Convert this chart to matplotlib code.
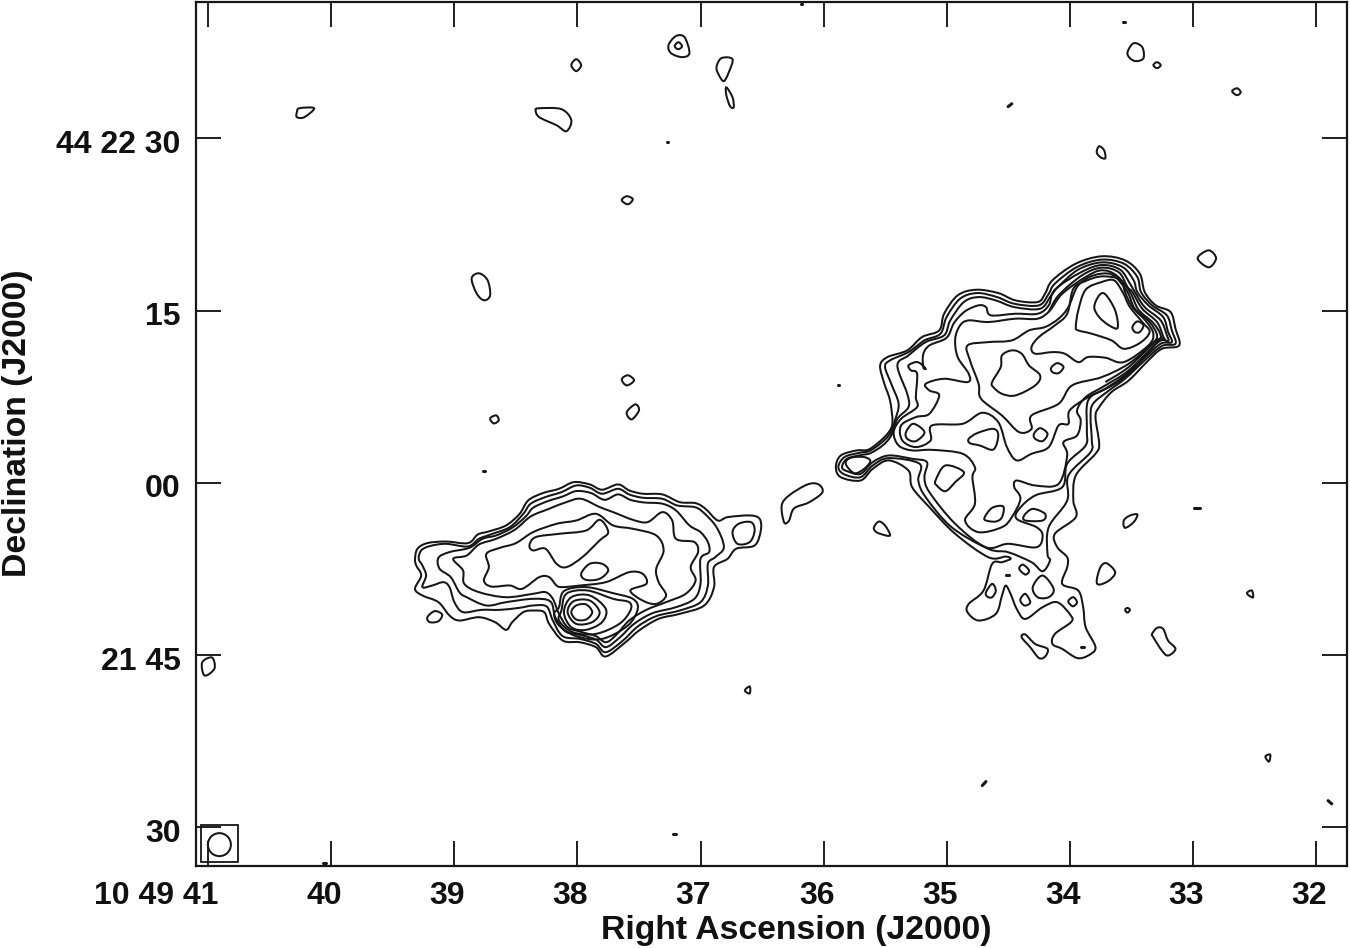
import matplotlib
matplotlib.use("Agg")
import matplotlib.pyplot as plt
from matplotlib.path import Path
from matplotlib.patches import PathPatch, Rectangle, Ellipse
from matplotlib.transforms import ScaledTranslation

plt.rcParams["font.family"] = ["Liberation Sans", "DejaVu Sans"]

# all positions: (RA seconds past 10 49, Dec arcsec past 44 22)
ra_ticks = [41, 40, 39, 38, 37, 36, 35, 34, 33, 32]
ra_labels = ["10 49 41", "40", "39", "38", "37", "36", "35", "34", "33", "32"]
dec_ticks = [30, 15, 0, -15, -30]
dec_labels = ["44 22 30", "15", "00", "21 45", "30"]

#%% eastern lobe
east_a = [(39.32,-6.62),(39.30,-5.74),(39.22,-5.25),(39.07,-5.11),(38.89,-5.25),(38.81,-4.50),(38.72,-4.23),(38.58,-3.71),(38.47,-2.70),(38.40,-1.53),(38.28,-0.89),(38.15,-0.52),(38.03,0.06),(37.90,-0.14),(37.80,-0.60),(37.67,-0.14),(37.58,-0.66),(37.47,-0.95),(37.31,-1.01),(37.17,-1.68),(37.04,-1.77),(36.96,-2.26),(36.86,-3.28),(36.78,-2.99),(36.60,-2.84),(36.52,-3.13),(36.51,-4.15),(36.56,-5.45),(36.71,-5.74),(36.78,-6.62),(36.89,-7.34),(36.89,-9.08),(36.97,-10.68),(37.17,-11.41),(37.34,-11.84),(37.50,-12.86),(37.61,-13.88),(37.77,-15.12),(37.85,-14.31),(37.98,-13.88),(38.12,-13.73),(38.23,-12.28),(38.27,-11.26),(38.36,-11.12),(38.44,-11.26),(38.53,-12.13),(38.58,-12.80),(38.67,-12.13),(38.80,-11.70),(38.96,-11.99),(39.04,-11.55),(39.13,-10.39),(39.26,-9.81),(39.32,-9.23),(39.27,-8.07),(39.31,-7.20)]
east_b = [(39.29,-6.62),(39.27,-5.89),(39.20,-5.51),(39.07,-5.31),(38.89,-5.54),(38.80,-4.87),(38.69,-4.44),(38.55,-3.86),(38.44,-2.70),(38.38,-1.82),(38.26,-1.24),(38.13,-0.81),(38.01,-0.23),(37.90,-0.43),(37.80,-0.95),(37.67,-0.52),(37.58,-1.01),(37.47,-1.30),(37.31,-1.39),(37.19,-1.97),(37.05,-2.11),(36.98,-2.55),(36.87,-3.86),(36.81,-5.60),(36.88,-6.47),(36.94,-7.05),(36.94,-8.94),(37.00,-10.39),(37.17,-11.12),(37.36,-11.61),(37.51,-12.51),(37.63,-13.73),(37.77,-14.75),(37.85,-14.02),(37.98,-13.59),(38.12,-13.35),(38.20,-11.99),(38.25,-10.77),(38.36,-10.68),(38.47,-10.88),(38.63,-11.06),(38.78,-11.06),(38.93,-11.26),(39.00,-10.39),(39.04,-9.08),(39.09,-8.65),(39.18,-8.94),(39.26,-9.08),(39.23,-8.07),(39.26,-7.20)]
east_c = [(39.13,-6.53),(39.04,-6.03),(38.88,-5.66),(38.77,-4.87),(38.66,-4.58),(38.53,-3.91),(38.42,-2.93),(38.36,-2.17),(38.24,-1.59),(38.12,-1.19),(38.01,-0.72),(37.89,-0.89),(37.78,-1.48),(37.67,-1.01),(37.57,-1.48),(37.46,-1.71),(37.31,-1.82),(37.20,-2.40),(37.09,-3.71),(37.00,-4.29),(36.94,-5.16),(36.93,-6.03),(37.00,-6.62),(37.00,-8.79),(37.05,-10.10),(37.20,-10.83),(37.39,-11.35),(37.54,-12.28),(37.66,-13.50),(37.77,-14.31),(37.85,-13.64),(37.98,-13.24),(38.10,-12.92),(38.18,-11.70),(38.22,-10.33),(38.36,-10.10),(38.58,-10.39),(38.74,-10.68),(38.90,-9.96),(38.96,-9.52),(39.03,-8.21),(39.12,-7.49)]
east_d = [(39.01,-6.62),(38.90,-6.33),(38.80,-5.37),(38.66,-4.87),(38.51,-4.09),(38.38,-2.93),(38.23,-2.26),(38.09,-1.68),(37.97,-1.39),(37.82,-2.11),(37.71,-2.55),(37.55,-3.22),(37.43,-3.42),(37.31,-2.55),(37.23,-3.28),(37.20,-4.87),(37.05,-5.16),(37.02,-6.03),(37.08,-7.34),(37.04,-8.50),(37.12,-9.66),(37.28,-10.39),(37.44,-11.06),(37.58,-11.99),(37.69,-13.30),(37.77,-13.88),(37.85,-13.35),(37.98,-12.95),(38.08,-12.57),(38.15,-11.41),(38.20,-10.10),(38.26,-9.52),(38.36,-9.66),(38.58,-9.96),(38.80,-9.52),(38.92,-8.79),(38.93,-7.63)]
east_e = [(38.74,-6.18),(38.63,-5.66),(38.50,-5.25),(38.36,-4.29),(38.17,-3.57),(38.01,-3.28),(37.85,-2.70),(37.71,-3.71),(37.55,-4.00),(37.36,-4.58),(37.30,-5.89),(37.36,-7.49),(37.34,-8.65),(37.28,-9.81),(37.36,-10.54),(37.47,-10.25),(37.57,-9.37),(37.44,-8.79),(37.47,-7.92),(37.58,-7.78),(37.77,-8.65),(37.98,-8.94),(38.12,-9.08),(38.17,-8.94),(38.23,-8.21),(38.31,-8.21),(38.45,-9.23),(38.55,-8.94),(38.70,-9.03),(38.76,-8.50),(38.72,-7.34)]
east_plateau = [(38.39,-5.45),(38.34,-4.73),(38.15,-4.44),(37.93,-4.15),(37.82,-3.22),(37.75,-4.29),(37.82,-5.02),(37.96,-6.47),(38.09,-7.34),(38.17,-7.05),(38.26,-5.74),(38.36,-5.89)]
east_spot = [(37.97,-7.92),(37.90,-7.05),(37.80,-7.05),(37.75,-7.63),(37.82,-8.36),(37.93,-8.45)]
core_1 = [(38.05,-11.26),(38.01,-10.68),(37.93,-10.59),(37.88,-11.26),(37.93,-11.90),(38.01,-11.90)]
core_2 = [(38.08,-11.26),(38.03,-10.30),(37.90,-10.25),(37.82,-11.26),(37.88,-12.13),(38.01,-12.28)]
core_3 = [(38.11,-11.26),(38.05,-9.96),(37.90,-9.81),(37.77,-10.97),(37.80,-12.13),(37.93,-12.80),(38.05,-12.57)]
core_4 = [(38.13,-11.12),(38.09,-9.66),(37.92,-9.37),(37.71,-10.10),(37.58,-10.39),(37.57,-11.12),(37.66,-12.28),(37.85,-13.15),(38.04,-13.00),(38.15,-11.99)]
core_5 = [(38.15,-10.83),(38.11,-9.43),(37.93,-9.08),(37.71,-9.61),(37.55,-10.10),(37.51,-10.97),(37.59,-12.42),(37.80,-13.59),(38.01,-13.35),(38.15,-12.42),(38.19,-11.41)]
east_knot = [(36.74,-4.29),(36.69,-3.57),(36.59,-3.42),(36.56,-4.15),(36.60,-5.16),(36.70,-5.31)]
east_islet = [(39.22,-11.70),(39.16,-11.17),(39.10,-11.47),(39.13,-12.05),(39.20,-12.13)]

#%% bridge between the lobes
bridge = [(36.34,-1.97),(36.28,-1.10),(36.13,-0.14),(36.04,-0.14),(36.01,-0.84),(36.12,-1.71),(36.24,-2.23),(36.28,-3.28),(36.32,-3.45)]

#%% western lobe
west_a = [(35.90,1.36),(35.86,2.38),(35.73,2.82),(35.64,2.87),(35.55,3.54),(35.47,4.41),(35.44,5.28),(35.46,7.17),(35.51,8.77),(35.54,10.22),(35.48,10.95),(35.32,11.53),(35.20,12.69),(35.06,13.27),(35.02,14.72),(34.91,16.32),(34.76,16.81),(34.58,16.52),(34.44,15.88),(34.26,15.74),(34.20,16.46),(34.14,17.63),(33.95,19.08),(33.74,19.72),(33.55,19.37),(33.43,18.21),(33.39,16.61),(33.30,15.45),(33.18,14.87),(33.14,13.42),(33.11,11.96),(33.25,11.67),(33.36,10.66),(33.52,8.91),(33.66,7.90),(33.76,6.59),(33.79,5.72),(33.76,3.40),(33.79,2.53),(33.95,0.64),(33.97,-1.54),(33.95,-2.99),(34.12,-4.44),(34.10,-5.61),(34.02,-6.48),(34.02,-7.35),(34.06,-8.80),(33.93,-9.38),(33.89,-10.83),(33.87,-12.57),(33.79,-14.32),(33.85,-15.04),(33.94,-15.25),(34.06,-14.46),(34.14,-14.03),(34.12,-13.16),(33.99,-12.14),(33.99,-11.56),(34.10,-10.40),(34.22,-10.83),(34.36,-11.85),(34.43,-10.98),(34.48,-9.67),(34.52,-8.95),(34.55,-9.82),(34.60,-11.41),(34.74,-11.99),(34.83,-11.27),(34.82,-10.54),(34.70,-9.38),(34.63,-7.06),(34.55,-6.91),(34.48,-6.62),(34.52,-6.42),(34.66,-6.48),(34.93,-4.44),(35.14,-2.12),(35.28,-0.38),(35.31,1.07),(35.47,1.95),(35.60,1.22),(35.70,0.20),(35.86,0.49)]
west_b = [(35.88,1.36),(35.83,2.24),(35.71,2.61),(35.63,2.76),(35.54,3.40),(35.46,4.27),(35.42,5.43),(35.39,6.88),(35.45,8.62),(35.50,10.08),(35.46,10.66),(35.31,11.38),(35.18,12.40),(35.05,12.98),(35.00,14.43),(34.89,16.03),(34.75,16.52),(34.59,16.17),(34.45,15.59),(34.25,15.45),(34.17,16.46),(34.12,17.34),(33.94,18.79),(33.74,19.43),(33.56,19.08),(33.45,17.92),(33.42,16.61),(33.33,15.45),(33.21,14.58),(33.17,13.27),(33.14,12.11),(33.25,11.91),(33.39,10.66),(33.55,9.06),(33.68,8.04),(33.81,6.88),(33.83,5.72),(33.82,3.69),(33.83,2.67),(34.01,0.64),(34.02,-1.54),(34.17,-3.86),(34.18,-6.19),(34.16,-6.77),(34.22,-7.70),(34.31,-6.91),(34.50,-6.04),(34.66,-5.75),(34.96,-3.86),(35.17,-1.25),(35.23,0.20),(35.22,1.66),(35.47,2.15),(35.60,1.51),(35.70,0.49),(35.83,0.73)]
west_c = [(35.85,1.36),(35.81,2.09),(35.70,2.41),(35.62,2.58),(35.52,3.25),(35.45,4.12),(35.40,5.57),(35.31,6.59),(35.32,7.75),(35.40,10.22),(35.31,11.09),(35.17,12.25),(35.02,12.84),(34.97,14.14),(34.86,15.74),(34.74,16.17),(34.60,15.88),(34.45,15.30),(34.24,15.16),(34.15,16.32),(34.09,17.10),(33.93,18.56),(33.74,19.19),(33.57,18.79),(33.48,17.63),(33.45,16.61),(33.36,15.45),(33.24,14.43),(33.20,13.13),(33.17,12.25),(33.26,12.11),(33.40,10.80),(33.57,9.20),(33.71,8.19),(33.85,7.17),(33.86,4.56),(33.87,3.25),(34.02,1.66),(34.06,-0.38),(34.28,-1.10),(34.41,-2.27),(34.43,-3.14),(34.27,-3.86),(34.22,-4.59),(34.27,-5.61),(34.50,-5.31),(34.68,-5.61),(34.93,-3.57),(35.14,-0.81),(35.18,0.49),(35.16,1.80),(35.28,2.09),(35.47,2.38),(35.60,1.80),(35.70,0.78),(35.81,1.02)]
west_d = [(35.19,10.08),(35.19,11.18),(35.14,11.96),(35.00,12.63),(34.94,13.91),(34.85,14.93),(34.74,15.45),(34.68,15.30),(34.64,14.58),(34.44,14.72),(34.26,14.72),(34.17,15.45),(34.12,16.81),(33.91,18.32),(33.74,18.96),(33.59,18.56),(33.51,17.34),(33.47,16.61),(33.39,15.30),(33.26,14.14),(33.21,12.84),(33.20,12.34),(33.28,12.25),(33.52,9.79),(33.71,8.48),(33.87,7.46),(33.94,6.30),(33.91,5.43),(33.94,4.12),(34.05,3.54),(34.02,2.38),(34.09,-0.09),(34.28,-0.23),(34.43,0.20),(34.45,-0.38),(34.40,-1.39),(34.47,-2.99),(34.55,-3.86),(34.74,-4.30),(34.85,-3.28),(34.77,-1.83),(34.79,0.49),(34.77,1.36),(34.87,2.53),(35.12,2.87),(35.28,2.82),(35.39,3.25),(35.43,4.41),(35.37,5.57),(35.24,6.59),(35.25,7.46),(35.24,9.49),(35.29,9.79),(35.31,10.22),(35.25,10.51),(35.21,10.37),(35.17,9.93)]
west_arc = [(34.17,14.87),(34.09,16.32),(33.90,18.06),(33.74,18.73),(33.60,18.32),(33.53,17.05),(33.49,16.61),(33.41,15.16),(33.29,14.00),(33.24,12.75),(33.23,12.46),(33.29,12.40),(33.52,10.08),(33.71,8.77)]
west_e = [(35.17,8.62),(35.02,9.06),(34.83,8.77),(34.82,9.49),(34.91,10.95),(34.93,12.54),(34.89,13.71),(34.82,14.14),(34.66,14.00),(34.44,14.29),(34.26,14.29),(34.16,15.01),(34.06,16.46),(33.87,17.92),(33.74,18.50),(33.62,18.06),(33.51,16.61),(33.44,15.07),(33.32,13.91),(33.26,12.84),(33.29,12.25),(33.52,9.50),(33.68,8.33),(33.85,7.46),(34.00,6.30),(34.01,5.14),(34.09,4.99),(34.17,3.11),(34.31,2.53),(34.43,1.95),(34.51,3.11),(34.58,5.28),(34.71,6.10),(34.87,5.14),(35.12,4.99),(35.13,3.69),(35.25,3.11),(35.36,3.69),(35.37,4.99),(35.25,5.72),(35.14,6.01),(35.06,7.61),(35.14,8.04)]
west_f = [(34.83,11.96),(34.66,12.25),(34.47,12.40),(34.33,13.27),(34.20,13.56),(34.09,14.29),(34.01,15.30),(33.94,17.05),(33.85,17.86),(33.74,18.21),(33.64,18.03),(33.53,16.61),(33.47,15.16),(33.35,14.00),(33.29,12.84),(33.33,12.11),(33.52,10.37),(33.74,9.20),(33.98,8.48),(34.09,6.88),(34.31,5.86),(34.31,4.70),(34.41,4.41),(34.55,5.86),(34.72,7.32),(34.74,8.62),(34.81,10.66)]
west_g = [(34.31,11.82),(34.25,12.69),(34.12,13.71),(34.02,14.72),(33.97,16.90),(33.87,17.57),(33.74,17.97),(33.59,17.70),(33.55,16.61),(33.49,15.30),(33.38,14.08),(33.32,12.98),(33.36,11.96),(33.56,10.51),(33.71,10.89),(33.85,10.95),(33.93,10.51),(34.04,11.24),(34.14,11.38),(34.28,11.24)]
west_h = [(33.95,13.56),(33.93,15.01),(33.87,16.81),(33.74,17.48),(33.64,17.63),(33.57,16.61),(33.51,15.30),(33.41,14.00),(33.35,13.13),(33.43,12.17),(33.56,11.67),(33.66,12.40),(33.82,12.98),(33.93,13.27)]
west_blobs = [
    [(34.63,8.77),(34.56,10.08),(34.55,11.09),(34.47,11.53),(34.39,11.24),(34.33,10.22),(34.24,9.35),(34.28,8.48),(34.44,7.61),(34.55,7.75),(34.62,8.33)],
    [(34.15,10.02),(34.10,10.42),(34.05,10.08),(34.09,9.55),(34.14,9.64)],
    [(33.80,15.30),(33.76,16.32),(33.71,16.41),(33.63,15.01),(33.61,13.50),(33.68,13.71),(33.76,14.43)],
    [(33.49,13.56),(33.45,14.05),(33.40,13.71),(33.43,13.13),(33.47,13.13)],
    [(35.33,4.41),(35.27,5.14),(35.18,4.41),(35.25,3.63),(35.32,3.83)],
    [(34.82,3.83),(34.75,4.33),(34.62,4.70),(34.58,4.12),(34.62,2.90),(34.73,3.25),(34.81,3.45)],
    [(34.29,4.27),(34.24,4.76),(34.18,4.27),(34.22,3.63),(34.28,3.83)],
    [(35.82,1.66),(35.78,2.18),(35.67,2.24),(35.62,1.89),(35.67,1.22),(35.75,0.84)],
    [(35.09,0.20),(35.01,1.51),(34.86,0.93),(34.93,0.06),(35.01,-0.73),(35.08,-0.23)],
    [(34.69,-2.99),(34.63,-2.18),(34.54,-2.06),(34.55,-2.99),(34.60,-3.37),(34.68,-3.28)],
    [(34.37,-2.85),(34.30,-2.27),(34.20,-2.70),(34.22,-3.28),(34.36,-3.28)],
    [(34.68,-9.53),(34.63,-8.80),(34.60,-9.38),(34.63,-9.96),(34.67,-9.90)],
    [(34.40,-10.11),(34.36,-9.67),(34.32,-10.40),(34.36,-10.69),(34.39,-10.48)],
    [(34.30,-9.09),(34.22,-8.07),(34.13,-9.24),(34.17,-9.96),(34.26,-9.96)],
    [(34.01,-10.25),(33.97,-9.96),(33.94,-10.40),(33.97,-10.75),(34.00,-10.54)],
    [(34.41,-7.49),(34.38,-7.12),(34.33,-7.64),(34.36,-7.99)],
]

#%% isolated noise peaks
islands = [
    [(35.59,-3.86),(35.55,-3.37),(35.50,-3.72),(35.46,-4.59),(35.54,-4.44),(35.58,-4.21)],
    [(33.56,-3.28),(33.51,-2.85),(33.45,-2.76),(33.48,-3.43),(33.55,-3.92)],
    [(33.78,-8.51),(33.75,-7.35),(33.70,-7.00),(33.63,-7.78),(33.68,-8.51),(33.76,-8.86)],
    [(33.55,-11.06),(33.53,-10.89),(33.51,-11.06),(33.53,-11.30)],
    [(33.33,-13.16),(33.29,-12.63),(33.24,-12.72),(33.20,-13.74),(33.14,-14.46),(33.20,-15.04),(33.25,-14.61),(33.32,-13.45)],
    [(34.39,-13.45),(34.36,-13.21),(34.28,-14.03),(34.18,-14.46),(34.20,-15.13),(34.25,-15.25),(34.32,-14.32)],
    [(40.28,32.26),(40.26,32.61),(40.14,32.61),(40.22,31.83),(40.28,31.83)],
    [(38.05,36.36),(38.01,36.88),(37.97,36.36),(38.01,35.84)],
    [(38.34,32.44),(38.31,32.61),(38.13,32.53),(38.05,31.57),(38.09,30.61),(38.17,31.13),(38.31,31.83)],
    [(37.26,38.10),(37.20,38.89),(37.13,38.80),(37.09,37.41),(37.15,37.06),(37.24,37.41)],
    [(37.21,38.01),(37.18,38.36),(37.15,38.01),(37.18,37.75)],
    [(36.87,36.18),(36.83,36.97),(36.74,36.88),(36.77,35.75),(36.81,34.97),(36.85,35.49)],
    [(36.79,34.44),(36.74,33.57),(36.73,32.70),(36.76,32.79),(36.79,33.75)],
    [(37.64,24.60),(37.60,24.95),(37.55,24.69),(37.59,24.25)],
    [(33.53,37.49),(33.48,38.27),(33.41,37.93),(33.40,36.97),(33.46,36.71),(33.51,36.97)],
    [(33.32,36.36),(33.29,36.62),(33.26,36.36),(33.29,36.10)],
    [(32.68,34.09),(32.64,34.35),(32.61,34.01),(32.64,33.75)],
    [(33.78,28.78),(33.76,29.30),(33.72,28.95),(33.71,28.26),(33.75,28.35)],
    [(38.86,17.80),(38.80,18.24),(38.73,17.63),(38.71,16.32),(38.76,15.89),(38.82,16.50)],
    [(37.64,9.01),(37.59,9.36),(37.54,8.92),(37.60,8.48)],
    [(37.60,6.13),(37.53,6.83),(37.50,6.31),(37.56,5.52)],
    [(38.71,5.61),(38.66,5.87),(38.64,5.44),(38.68,5.17)],
    [(41.05,-15.64),(40.97,-15.21),(40.95,-16.17),(41.03,-16.78)],
    [(36.64,-18.08),(36.60,-17.73),(36.60,-18.34)],
    [(32.96,19.55),(32.87,20.24),(32.81,19.55),(32.87,18.76)],
    [(32.56,-9.63),(32.52,-9.37),(32.51,-9.98)],
    [(32.41,-23.83),(32.37,-23.66),(32.38,-24.27)],
]
specks = [
    [(34.52,-8.01),(34.49,-8.01)],
    [(33.91,-14.26),(33.88,-14.26)],
    [(37.272,29.65),(37.268,29.65)],
    [(36.182,41.67),(36.178,41.67)],
    [(33.57,40.10),(33.55,40.10)],
    [(34.50,32.75),(34.47,33.00)],
    [(38.765,0.99),(38.755,0.99)],
    [(32.99,-2.23),(32.94,-2.23)],
    [(34.71,-26.36),(34.68,-26.01)],
    [(31.90,-27.67),(31.87,-27.95)],
    [(37.22,-30.54),(37.20,-30.54)],
    [(35.885,8.48),(35.875,8.48)],
    [(40.07,-33.14),(40.04,-33.14)],
]

#%% beam
beam_ra, beam_dec = 40.91, -31.50
beam_width_ra, beam_height_dec = 0.187, 2.0
box_ra = (41.06, 40.76)
box_dec = (-32.98, -29.76)

contours = [east_a, east_b, east_c, east_d, east_e, east_plateau, east_spot,
            core_1, core_2, core_3, core_4, core_5, east_knot, east_islet, bridge,
            west_a, west_b, west_c, west_d, west_e, west_f, west_g, west_h]
contours += west_blobs + islands


def contour_path(pts, closed=True):
    # cubic segments through the read points (Catmull-Rom handles)
    n = len(pts)
    if closed:
        at = lambda i: pts[i % n]
        spans = range(n)
    else:
        at = lambda i: pts[min(max(i, 0), n - 1)]
        spans = range(n - 1)
    verts = [at(0)]
    codes = [Path.MOVETO]
    for i in spans:
        p0, p1, p2, p3 = at(i - 1), at(i), at(i + 1), at(i + 2)
        c1 = (p1[0] + (p2[0] - p0[0]) / 6, p1[1] + (p2[1] - p0[1]) / 6)
        c2 = (p2[0] - (p3[0] - p1[0]) / 6, p2[1] - (p3[1] - p1[1]) / 6)
        verts += [c1, c2, p2]
        codes += [Path.CURVE4] * 3
    return Path(verts, codes)


fig = plt.figure(figsize=(13.5, 9.48), dpi=100)
ax = fig.add_axes([196 / 1350, 1 - 866 / 948, 1151 / 1350, 864 / 948])
ink = "#161616"
lw = 1.45

for pts in contours:
    ax.add_patch(PathPatch(contour_path(pts), fill=False, ec=ink, lw=lw))
ax.add_patch(PathPatch(contour_path(west_arc, closed=False), fill=False, ec=ink, lw=lw))
for pts in specks:
    ax.plot(*zip(*pts), color=ink, lw=2.2, solid_capstyle="round")

ax.add_patch(Ellipse((beam_ra, beam_dec), beam_width_ra, beam_height_dec, fill=False, ec=ink, lw=lw))
ax.add_patch(Rectangle((box_ra[0], box_dec[0]), box_ra[1] - box_ra[0], box_dec[1] - box_dec[0],
                       fill=False, ec=ink, lw=1.3))

ax.set_xlim(41.10, 31.746)
ax.set_ylim(-33.36, 41.86)
ax.set_xticks(ra_ticks, ra_labels)
ax.set_yticks(dec_ticks, dec_labels)
ax.tick_params(direction="in", length=18, width=1.35, color=ink, top=True, right=True,
               labelsize=23, pad=11, labelcolor="#111111")
for lab in ax.get_xticklabels() + ax.get_yticklabels():
    lab.set_fontweight("bold")
for s in ax.spines.values():
    s.set_linewidth(1.6)
    s.set_color(ink)

# tick labels sit a little off the ticks in the original
for i, lab in enumerate(ax.get_xticklabels()):
    dx = 10 if i == 0 else -7
    if i == 0:
        lab.set_ha("right")
    lab.set_transform(lab.get_transform() + ScaledTranslation(dx / 100, 0, fig.dpi_scale_trans))
for lab in ax.get_yticklabels():
    lab.set_transform(lab.get_transform() + ScaledTranslation(0, -3 / 100, fig.dpi_scale_trans))

ax.set_xlabel("Right Ascension (J2000)", fontsize=24.3, fontweight="bold", color="#111111")
ax.xaxis.set_label_coords((796 - 196) / 1151, -(915 - 866) / 864, transform=ax.transAxes)
ax.set_ylabel("Declination (J2000)", fontsize=24.3, fontweight="bold", color="#111111")
ax.yaxis.set_label_coords(-(196 - 33) / 1151, (866 - 423) / 864, transform=ax.transAxes)

fig.savefig("out.png", dpi=100)
